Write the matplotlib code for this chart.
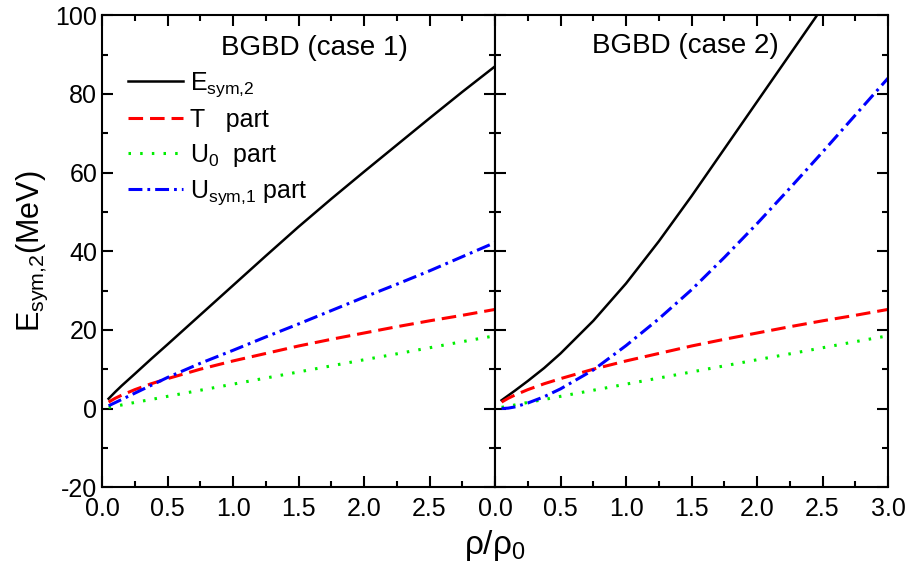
import numpy as np
import matplotlib
matplotlib.use("Agg")
import matplotlib.pyplot as plt
from matplotlib.ticker import MultipleLocator

plt.rcParams['font.family'] = ['Liberation Sans', 'DejaVu Sans']
plt.rcParams['mathtext.fontset'] = 'custom'
plt.rcParams['mathtext.rm'] = 'Liberation Sans'
plt.rcParams['lines.scale_dashes'] = False
plt.rcParams['axes.unicode_minus'] = False

# densite reduite rho/rho0
rho = [0.05, 0.1, 0.15, 0.25, 0.375, 0.5, 0.75, 1.0, 1.25, 1.5,
       1.75, 2.0, 2.25, 2.5, 2.75, 3.0]

# cas 1
e_sym_1 = [2.5, 4.2, 5.8, 8.8, 12.6, 16.3, 23.8, 31.3, 38.8, 46.2,
           53.3, 60.2, 67.0, 73.8, 80.5, 87.0]
t_part = [1.64, 2.6, 3.4, 4.8, 6.3, 7.6, 10.0, 12.1, 14.0, 15.9,
          17.6, 19.2, 20.8, 22.3, 23.7, 25.2]
u0_part = [0.3, 0.6, 0.9, 1.55, 2.3, 3.1, 4.65, 6.2, 7.75, 9.3,
           10.85, 12.4, 13.9, 15.45, 17.0, 18.5]
usym_1 = [0.7, 1.5, 2.3, 3.9, 5.9, 7.9, 11.5, 14.8, 18.2, 21.5,
          24.9, 28.3, 31.6, 35.0, 38.6, 42.2]

# cas 2
e_sym_2 = [2.1, 3.3, 4.5, 7.0, 10.3, 14.0, 22.3, 31.8, 42.5, 54.0,
           66.0, 78.0, 90.0, 102.0, 114.0, 126.0]
usym_2 = [0.0, 0.1, 0.4, 1.4, 3.0, 5.0, 9.8, 16.0, 22.8, 30.2,
          38.4, 47.0, 56.0, 65.2, 74.6, 84.0]

labels = [r'$\mathregular{E_{sym{,}2}}$', 'T   part',
          r'$\mathregular{U_0}$  part', r'$\mathregular{U_{sym{,}1}}$ part']

fig = plt.figure(figsize=(9.11, 5.8), dpi=100)
ax1 = fig.add_axes([0.112, 0.160, 0.4314, 0.8138])
ax2 = fig.add_axes([0.5434, 0.160, 0.4314, 0.8138])


def draw(ax, e, u):
    ax.plot(rho, e, color='black', lw=1.8)
    ax.plot(rho, t_part, color='red', lw=2.2, dashes=(10.5, 5))
    ax.plot(rho, u0_part, color='#00ee00', lw=2.2, dashes=(1.8, 6.6))
    ax.plot(rho, u, color='blue', lw=2.2, dashes=(10, 3.6, 2, 3.6))
    ax.set_xlim(0, 3)
    ax.set_ylim(-20, 100)
    ax.xaxis.set_major_locator(MultipleLocator(0.5))
    ax.xaxis.set_minor_locator(MultipleLocator(0.25))
    ax.yaxis.set_major_locator(MultipleLocator(20))
    ax.yaxis.set_minor_locator(MultipleLocator(10))
    ax.tick_params(which='both', direction='in', top=True, right=True,
                   labelsize=18, width=1.5)
    ax.tick_params(which='major', length=8)
    ax.tick_params(which='minor', length=4.5)
    for s in ax.spines.values():
        s.set_linewidth(1.5)


draw(ax1, e_sym_1, usym_1)
draw(ax2, e_sym_2, usym_2)

ax1.set_xticks([0, 0.5, 1.0, 1.5, 2.0, 2.5])
ax1.set_xticklabels(['0.0', '0.5', '1.0', '1.5', '2.0', '2.5'])
ax2.set_xticks([0, 0.5, 1.0, 1.5, 2.0, 2.5, 3.0])
ax2.set_xticklabels(['0.0', '0.5', '1.0', '1.5', '2.0', '2.5', '3.0'])
ax2.tick_params(labelleft=False)
ax1.tick_params(axis='x', pad=7)
ax2.tick_params(axis='x', pad=7)

ax1.text(0.54, 0.93, 'BGBD (case 1)', transform=ax1.transAxes,
         ha='center', va='center', fontsize=20)
ax2.text(0.485, 0.935, 'BGBD (case 2)', transform=ax2.transAxes,
         ha='center', va='center', fontsize=20)

ax1.legend(ax1.lines, labels, loc='upper left', bbox_to_anchor=(0.04, 0.905),
           frameon=False, fontsize=18, handlelength=2.2, handletextpad=0.3,
           labelspacing=0.38, borderaxespad=0)

ax1.set_ylabel(r'$\mathregular{E_{sym{,}2}}$(MeV)', fontsize=22, labelpad=4)
fig.text(0.543, 0.03, r'ρ/ρ$_\mathregular{0}$', ha='center', va='bottom',
         fontsize=24)

fig.savefig('out.png', dpi=100)
